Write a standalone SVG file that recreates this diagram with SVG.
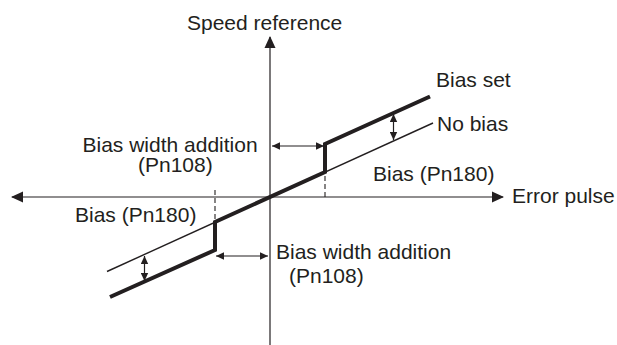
<svg xmlns="http://www.w3.org/2000/svg" width="617" height="345" viewBox="0 0 617 345">
<style>
.t{font-family:"Liberation Sans",Arial,sans-serif;font-size:21px;fill:#231f20}
.ax{stroke:#231f20;stroke-width:1.2;fill:none}
.thin{stroke:#231f20;stroke-width:1.4;fill:none}
.thick{stroke:#231f20;stroke-width:4;fill:none;stroke-linejoin:miter}
.dash{stroke:#231f20;stroke-width:1.1;stroke-dasharray:5,3;fill:none}
.dim{stroke:#231f20;stroke-width:1.2;fill:none}
</style>
<defs>
<marker id="big" viewBox="0 0 12 12" refX="11" refY="6" markerWidth="12" markerHeight="12" markerUnits="userSpaceOnUse" orient="auto-start-reverse">
<path d="M0,0.5 L12,6 L0,11.5 z" fill="#231f20"/>
</marker>
<marker id="sm" viewBox="0 0 8 8" refX="8" refY="4" markerWidth="8" markerHeight="8" markerUnits="userSpaceOnUse" orient="auto-start-reverse">
<path d="M0,0.3 L8,4 L0,7.7 z" fill="#231f20"/>
</marker>
</defs>
<g id="connectors">
<line id="x-axis" class="ax" x1="12" y1="197" x2="503" y2="197" marker-start="url(#big)" marker-end="url(#big)"/>
<line id="y-axis" class="ax" x1="270" y1="345" x2="270" y2="37" marker-end="url(#big)"/>
<line id="no-bias" class="thin" x1="107" y1="271.5" x2="433" y2="123"/>
<polyline id="bias-set" class="thick" points="110,297 215,250 215,222 325,172 325,144 430,96.5"/>
<line class="dash" x1="325" y1="176" x2="325" y2="197"/>
<line class="dash" x1="215" y1="190" x2="215" y2="222"/>
<line class="dim" x1="272" y1="146" x2="324" y2="146" marker-start="url(#sm)" marker-end="url(#sm)"/>
<line class="dim" x1="216" y1="256" x2="268" y2="256" marker-start="url(#sm)" marker-end="url(#sm)"/>
<line class="dim" x1="393.5" y1="114" x2="393.5" y2="140" marker-start="url(#sm)" marker-end="url(#sm)"/>
<line class="dim" x1="144.5" y1="256" x2="144.5" y2="281" marker-start="url(#sm)" marker-end="url(#sm)"/>
</g>
<g id="label-speed"><text class="t" x="187" y="30">Speed reference</text></g>
<g id="label-error"><text class="t" x="512" y="203">Error pulse</text></g>
<g id="label-biasset"><text class="t" x="436" y="87">Bias set</text></g>
<g id="label-nobias"><text class="t" x="437" y="131">No bias</text></g>
<g id="label-bias-right"><text class="t" x="373" y="181">Bias (Pn180)</text></g>
<g id="label-bias-left"><text class="t" x="75" y="221.5">Bias (Pn180)</text></g>
<g id="label-width-top"><text class="t" x="82.5" y="152">Bias width addition</text><text class="t" x="138" y="172">(Pn108)</text></g>
<g id="label-width-bottom"><text class="t" x="276" y="259">Bias width addition</text><text class="t" x="289" y="283">(Pn108)</text></g>
</svg>
